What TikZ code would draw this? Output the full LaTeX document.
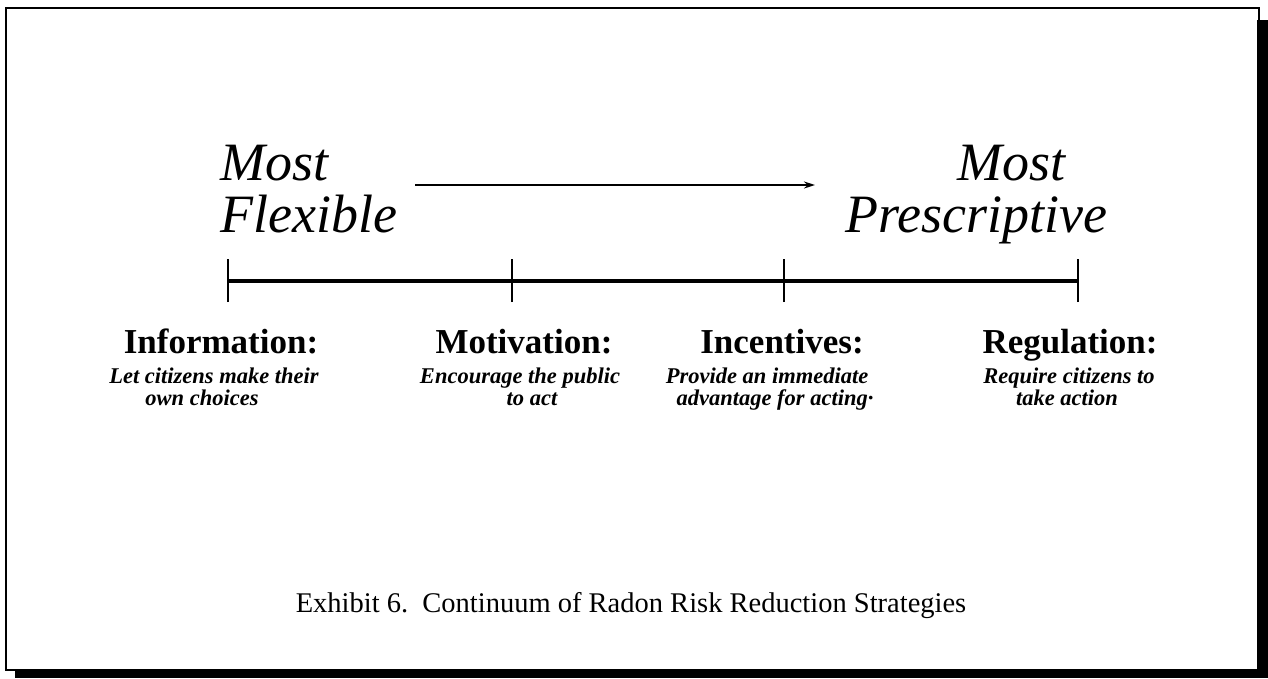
\documentclass[tikz,border=0pt]{standalone}
\usepackage{fontspec}
\setmainfont{Liberation Serif}
\usetikzlibrary{arrows.meta}
\begin{document}
\begin{tikzpicture}[x=1pt,y=-1pt,
  big/.style={inner sep=0pt,font=\fontsize{54}{60}\selectfont\itshape},
  head/.style={inner sep=0pt,anchor=base,font=\fontsize{35}{38}\selectfont\bfseries},
  sub/.style={inner sep=0pt,anchor=base,font=\fontsize{22.5}{25}\selectfont\bfseries\itshape},
  tickline/.style={line width=2pt},
  axisline/.style={line width=3.2pt},
  captext/.style={inner sep=0pt,anchor=base,font=\fontsize{28.5}{32}\selectfont}]
\useasboundingbox (0,0) rectangle (1268,678);
% frame with shadow
\fill[black] (1257,20) rectangle (1268,678);
\fill[black] (15,669) rectangle (1268,678);
\draw[line width=2.2pt] (6,8) rectangle (1259,670);
% top labels
\node[big,anchor=base west] (mostL) at (220,180) {Most};
\node[big,anchor=base west] (flex) at (220,232) {Flexible};
\node[big,anchor=base west] (mostR) at (957,180) {Most};
\node[big,anchor=base west] (presc) at (845,232) {Prescriptive};
% arrow
\coordinate (a1) at (415,185);
\coordinate (a2) at (815,185);
\draw[line width=1.8pt,-{Stealth[length=11pt,width=7pt]}] (a1) -- (a2);
% axis
\coordinate (t1) at (228,281);
\coordinate (t2) at (512,281);
\coordinate (t3) at (784,281);
\coordinate (t4) at (1078,281);
\draw[axisline] (t1) -- (t2) -- (t3) -- (t4);
\foreach \t in {t1,t2,t3,t4}{
  \draw[tickline] ([yshift=-21pt]\t.center) -- ([yshift=22pt]\t.center);
}
% headings
\node[head] (h1) at (221,353) {Information:};
\node[head] (h2) at (524,353) {Motivation:};
\node[head] (h3) at (782,353) {Incentives:};
\node[head] (h4) at (1070,353) {Regulation:};
% subtitles
\node[sub] (s1a) at (214,383) {Let citizens make their};
\node[sub] (s1b) at (202,405) {own choices};
\node[sub] (s2a) at (520,383) {Encourage the public};
\node[sub] (s2b) at (532,405) {to act};
\node[sub] (s3a) at (767,383) {Provide an immediate};
\node[sub] (s3b) at (775,405) {advantage for acting·};
\node[sub] (s4a) at (1069,383) {Require citizens to};
\node[sub] (s4b) at (1067,405) {take action};
% caption
\node[captext] (caption) at (631,612) {Exhibit 6.\ \ Continuum of Radon Risk Reduction Strategies};
\end{tikzpicture}
\end{document}
